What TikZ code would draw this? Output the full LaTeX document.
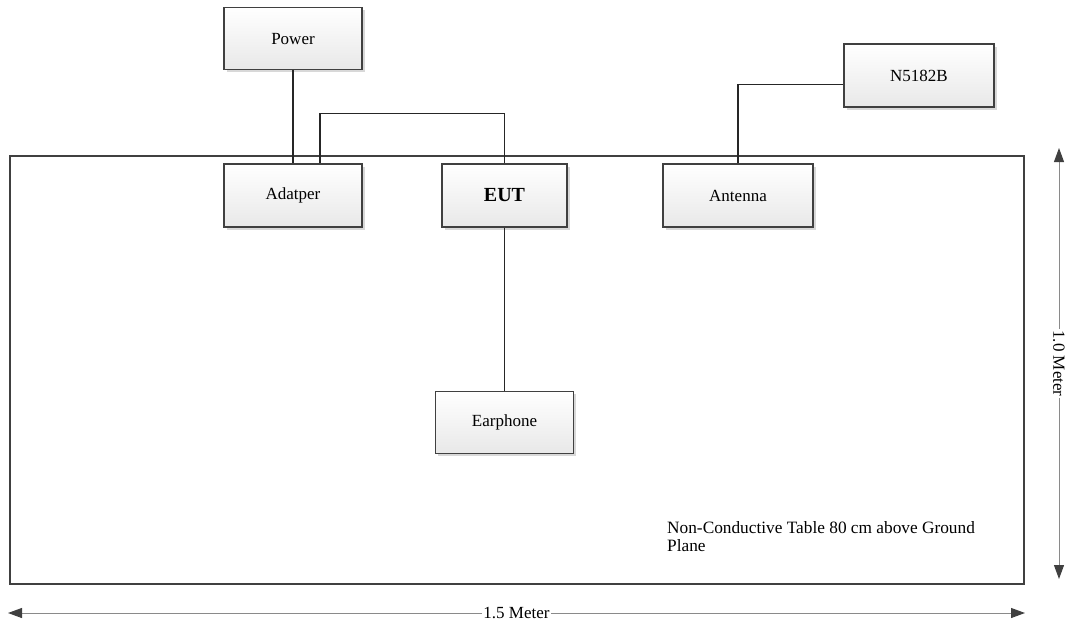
\documentclass[tikz,border=0pt]{standalone}
\usepackage{fontspec}
\setmainfont{Liberation Serif}
\usepackage{tikz}
\usetikzlibrary{arrows.meta,positioning,shadows}
\definecolor{edge}{HTML}{404040}
\definecolor{dimline}{HTML}{8A8A8A}

\begin{document}
\begin{tikzpicture}[x=1pt,y=-1pt,every node/.style={font=\fontsize{17}{20}\selectfont,align=center},unit/.style={draw=edge,line width=1.4pt,top color=white,bottom color=black!9,drop shadow={shadow xshift=2.5pt,shadow yshift=-2.5pt,fill=black!30,opacity=.5},minimum width=#1,minimum height=63pt,inner sep=0pt},wire/.style={line width=1.3pt,black!85},dim/.style={{Triangle[length=14pt,width=10pt,fill=edge,color=edge]}-{Triangle[length=14pt,width=10pt,fill=edge,color=edge]},draw=dimline,line width=1pt}]
\useasboundingbox (0,0) rectangle (1072,625);
% table top
\draw[edge,line width=2.2pt] (10,156) rectangle (1024,584);
\node[unit=138pt] (adapter) at (293,195.5) {Adatper};
\node[unit=125pt,font=\fontsize{20}{24}\selectfont\bfseries] (eut) at (504.5,195.5) {EUT};
\node[unit=150pt] (antenna) at (738,195.5) {Antenna};
\node[unit=138pt,minimum height=62pt,above=93pt of adapter] (power) {Power};
\node[unit=138pt,minimum height=62pt,below=163pt of eut] (earphone) {Earphone};
\node[unit=150pt] (gen) at (919,75.5) {N5182B};
\node[anchor=north west,align=left,inner sep=0pt,font=\fontsize{17.3}{17.8}\selectfont] (note) at (667,521) {Non-Conductive Table 80 cm above Ground\\Plane};
% cables
\draw[wire] (power) -- (adapter);
\draw[wire] ([xshift=27pt]adapter.north) -- ++(0,-50) -| (eut.north);
\draw[wire] (eut) -- (earphone);
\draw[wire] (antenna.north) |- ([yshift=-9pt]gen.west);
% dimensions
\coordinate (hl) at (8,613);
\coordinate (hr) at (1025,613);
\coordinate (vt) at (1059,148);
\coordinate (vb) at (1059,579);
\draw[dim] (hl) -- node[fill=white,text=black,inner sep=1pt] (wlab) {1.5 Meter} (hr);
\draw[dim] (vt) -- node[fill=white,text=black,inner sep=1pt,rotate=-90] (hlab) {1.0 Meter} (vb);
\end{tikzpicture}
\end{document}
